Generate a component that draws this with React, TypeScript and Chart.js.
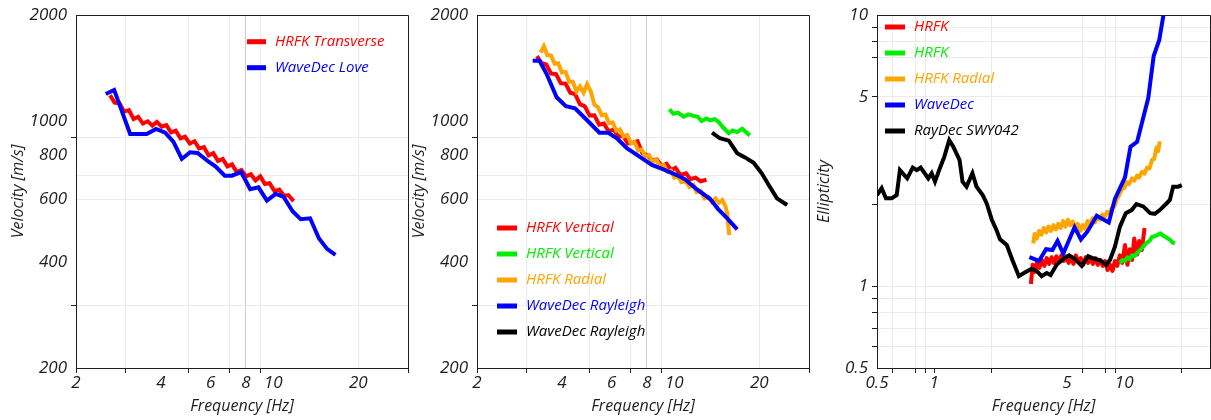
import React, { useEffect, useRef } from "react";
import { Chart, registerables } from "chart.js";

Chart.register(...registerables);

// ---------- Love-wave dispersion (left panel) ----------
const transverseLabel = "HRFK Transverse";
const transverseFreq = [2.64, 2.74, 2.85, 2.96, 3.08, 3.2, 3.32, 3.45, 3.59, 3.73, 3.87, 4.02, 4.18, 4.34, 4.51, 4.69, 4.87, 5.06, 5.26, 5.46, 5.68, 5.9, 6.13, 6.37, 6.62, 6.88, 7.14, 7.42, 7.71, 8.01, 8.33, 8.65, 8.99, 9.34, 9.7, 10.1, 10.5, 10.9, 11.3, 11.8];
const transverseVel = [1185, 1130, 1125, 1065, 1075, 1015, 1030, 985, 1000, 972, 995, 965, 975, 930, 940, 895, 905, 865, 878, 838, 845, 800, 812, 772, 782, 745, 755, 718, 728, 698, 708, 680, 698, 664, 668, 634, 640, 615, 618, 594];

const loveLabel = "WaveDec Love";
const loveFreq = [2.55, 2.73, 3.11, 3.56, 3.84, 4.14, 4.43, 4.74, 5.07, 5.39, 5.9, 6.25, 6.73, 7.13, 7.69, 8.28, 8.86, 9.49, 10.2, 10.87, 11.7, 12.5, 13.5, 14.5, 15.5, 16.6];
const loveVel = [1195, 1227, 920, 920, 951, 928, 874, 782, 817, 813, 768, 744, 701, 701, 718, 642, 650, 596, 623, 611, 556, 528, 531, 466, 435, 418];

// ---------- Rayleigh-wave dispersion (middle panel) ----------
const verticalLabel = "HRFK Vertical";
const verticalFreq = [3.26, 3.39, 3.52, 3.66, 3.81, 3.96, 4.12, 4.28, 4.45, 4.63, 4.82, 5.01, 5.21, 5.42, 5.63, 5.86, 6.09, 6.34, 6.59, 6.85, 7.13, 7.41, 7.71, 8.02, 8.34, 8.67, 9.02, 9.38, 9.75, 10.1, 10.5, 11.0, 11.4, 11.9, 12.4, 13.0];
const verticalVel = [1530, 1460, 1448, 1365, 1360, 1282, 1278, 1205, 1195, 1118, 1102, 1038, 1040, 978, 985, 935, 948, 905, 908, 865, 870, 878, 812, 802, 775, 780, 748, 758, 728, 738, 705, 712, 685, 692, 676, 683];

const vertical2Label = "HRFK Vertical";
const vertical2Freq = [9.61, 9.93, 10.3, 10.8, 11.2, 11.7, 12.1, 12.5, 13.0, 13.4, 13.9, 14.3, 14.9, 15.6, 16.1, 16.7, 17.4, 18.0, 18.5];
const vertical2Vel = [1080, 1050, 1058, 1030, 1046, 1036, 1030, 1002, 1018, 1006, 1014, 998, 960, 926, 942, 932, 952, 930, 912];

const radialLabel = "HRFK Radial";
const radialFreq = [3.36, 3.45, 3.55, 3.66, 3.77, 3.88, 4.0, 4.12, 4.24, 4.37, 4.5, 4.63, 4.77, 4.91, 5.06, 5.21, 5.37, 5.53, 5.7, 5.87, 6.05, 6.23, 6.42, 6.61, 6.81, 7.02, 7.23, 7.45, 7.67, 7.9, 8.14, 8.39, 8.64, 8.9, 9.17, 9.45, 9.73, 10.0, 10.3, 10.6, 11.0, 11.3, 11.7, 12.0, 12.4, 12.8, 13.2, 13.6, 14.0, 14.4, 14.8, 15.2, 15.4, 15.65];
const radialVel = [1565, 1630, 1540, 1535, 1455, 1460, 1375, 1380, 1295, 1295, 1215, 1255, 1205, 1275, 1215, 1115, 1095, 1040, 1045, 988, 992, 940, 948, 905, 915, 866, 872, 826, 832, 795, 802, 768, 778, 745, 752, 720, 725, 692, 698, 672, 676, 652, 660, 630, 634, 604, 610, 590, 604, 588, 598, 572, 548, 476];

const rayleighLabel = "WaveDec Rayleigh";
const rayleighFreq = [3.15, 3.33, 3.53, 3.83, 4.13, 4.45, 4.9, 5.43, 5.84, 6.26, 6.79, 7.37, 8.33, 9.15, 10.2, 10.9, 12.0, 13.4, 14.3, 15.4, 16.7];
const rayleighVel = [1484, 1484, 1361, 1169, 1104, 1088, 1008, 928, 928, 895, 839, 803, 752, 731, 704, 685, 642, 602, 564, 531, 494];

const rayleigh2Label = "WaveDec Rayleigh";
const rayleigh2Freq = [13.6, 14.5, 15.6, 16.7, 17.8, 19.1, 20.4, 21.6, 23.1, 25.1];
const rayleigh2Vel = [928, 895, 881, 812, 790, 763, 712, 660, 605, 579];

// ---------- Ellipticity (right panel) ----------
const ellHrfkLabel = "HRFK";
const ellHrfkFreq = [3.23, 3.3, 3.38, 3.48, 3.58, 3.69, 3.8, 3.91, 4.03, 4.15, 4.27, 4.4, 4.53, 4.67, 4.81, 4.95, 5.1, 5.25, 5.41, 5.57, 5.74, 5.91, 6.09, 6.27, 6.46, 6.65, 6.85, 7.06, 7.27, 7.49, 7.71, 7.94, 8.18, 8.42, 8.68, 8.94, 9.2, 9.48, 9.76, 10.1, 10.4, 10.7, 11.0, 11.3, 11.7, 12.0, 12.4, 12.8];
const ellHrfkVal = [1.02, 1.2, 1.13, 1.23, 1.17, 1.25, 1.19, 1.27, 1.21, 1.28, 1.22, 1.29, 1.23, 1.3, 1.24, 1.29, 1.22, 1.28, 1.21, 1.3, 1.23, 1.27, 1.2, 1.28, 1.22, 1.27, 1.21, 1.27, 1.2, 1.25, 1.19, 1.24, 1.15, 1.2, 1.14, 1.24, 1.19, 1.3, 1.22, 1.42, 1.2, 1.37, 1.25, 1.5, 1.31, 1.47, 1.36, 1.64];

const ellHrfk2Label = "HRFK";
const ellHrfk2Freq = [9.5, 9.8, 10.1, 10.4, 10.7, 11.0, 11.3, 11.7, 12.0, 12.4, 12.8, 13.2, 13.6, 14.0, 14.5, 15.0, 15.5, 16.0, 16.5, 17.0, 17.5, 18.0, 18.5];
const ellHrfk2Val = [1.22, 1.25, 1.24, 1.28, 1.26, 1.3, 1.29, 1.33, 1.35, 1.38, 1.42, 1.45, 1.47, 1.52, 1.53, 1.55, 1.57, 1.54, 1.52, 1.5, 1.48, 1.45, 1.44];

const ellRadialLabel = "HRFK Radial";
const ellRadialFreq = [3.32, 3.38, 3.47, 3.57, 3.67, 3.78, 3.89, 4.0, 4.12, 4.24, 4.37, 4.5, 4.63, 4.77, 4.91, 5.06, 5.21, 5.37, 5.53, 5.7, 5.87, 6.05, 6.23, 6.42, 6.61, 6.81, 7.02, 7.23, 7.45, 7.67, 7.9, 8.14, 8.39, 8.64, 8.9, 9.17, 9.45, 9.73, 10.0, 10.3, 10.6, 11.0, 11.3, 11.7, 12.0, 12.4, 12.8, 13.2, 13.6, 14.0, 14.4, 14.8, 15.1, 15.4];
const ellRadialVal = [1.44, 1.56, 1.5, 1.6, 1.55, 1.64, 1.58, 1.66, 1.6, 1.68, 1.62, 1.7, 1.64, 1.74, 1.66, 1.76, 1.68, 1.73, 1.64, 1.7, 1.6, 1.68, 1.63, 1.74, 1.68, 1.78, 1.72, 1.8, 1.76, 1.84, 1.8, 1.88, 1.86, 1.95, 1.98, 2.1, 2.18, 2.28, 2.3, 2.42, 2.38, 2.5, 2.45, 2.56, 2.52, 2.64, 2.6, 2.74, 2.72, 2.92, 2.95, 3.25, 3.15, 3.42];

const ellWaveDecLabel = "WaveDec";
const ellWaveDecFreq = [3.17, 3.56, 3.88, 4.19, 4.46, 4.78, 5.48, 5.92, 6.4, 7.17, 8.3, 8.94, 10.1, 10.8, 11.7, 12.6, 13.4, 14.3, 15.3, 16.1, 16.4];
const ellWaveDecVal = [1.28, 1.24, 1.37, 1.36, 1.47, 1.32, 1.65, 1.49, 1.59, 1.82, 1.72, 2.1, 2.52, 3.27, 3.41, 4.18, 4.95, 7.06, 8.09, 10.0, 11.5];

const ellRayDecLabel = "RayDec SWY042";
const ellRayDecFreq = [0.5, 0.529, 0.557, 0.597, 0.635, 0.66, 0.721, 0.771, 0.809, 0.849, 0.931, 0.97, 1.01, 1.07, 1.13, 1.2, 1.26, 1.36, 1.41, 1.48, 1.59, 1.67, 1.8, 1.89, 2.01, 2.13, 2.22, 2.41, 2.58, 2.79, 2.97, 3.26, 3.46, 3.68, 3.91, 4.1, 4.41, 4.78, 5.14, 5.51, 5.98, 6.47, 7.02, 7.46, 8.02, 8.42, 8.94, 9.5, 10.2, 10.95, 11.6, 12.6, 13.7, 14.5, 15.4, 16.7, 17.4, 18.1, 19.3, 20.1];
const ellRayDecVal = [2.17, 2.3, 2.11, 2.11, 2.17, 2.68, 2.5, 2.74, 2.68, 2.74, 2.5, 2.61, 2.43, 2.72, 3.0, 3.46, 3.27, 2.92, 2.43, 2.33, 2.61, 2.33, 2.17, 2.02, 1.76, 1.61, 1.49, 1.42, 1.25, 1.09, 1.12, 1.16, 1.14, 1.09, 1.12, 1.1, 1.2, 1.26, 1.3, 1.26, 1.19, 1.29, 1.26, 1.25, 1.2, 1.25, 1.4, 1.66, 1.86, 1.91, 2.01, 1.97, 1.86, 1.85, 1.91, 2.02, 2.08, 2.33, 2.33, 2.36];

// ---------- Axis tick sets ----------
const freqTicks = [2, 3, 4, 5, 6, 7, 8, 9, 10, 20, 30];
const freqLabels = [2, 4, 6, 8, 10, 20];
const freqGrid = [3, 5, 7, 8, 9, 20];
const freqMarks = [2, 3, 5, 7, 9, 30];

const velTicks = [200, 300, 400, 600, 700, 800, 900, 1000, 2000];
const velLabels = [200, 400, 600, 800, 1000, 2000];
const velGrid = [300, 600, 700, 900];
const velMarks = [300, 900];

const ellFreqTicks = [0.5, 0.6, 0.7, 0.8, 0.9, 1, 2, 3, 4, 5, 6, 7, 8, 9, 10, 20];
const ellFreqLabels = [0.5, 1, 5, 10];
const ellFreqGrid = [0.6, 0.8, 0.9, 2, 6, 8, 9, 20];
const ellFreqMarks = [0.6, 0.8, 0.9, 1, 2, 6, 8, 9, 20];

const ellTicks = [0.5, 0.6, 0.7, 0.8, 0.9, 1, 2, 3, 4, 5, 6, 7, 8, 9, 10];
const ellLabels = [0.5, 1, 5, 10];
const ellGrid = [0.6, 0.7, 0.8, 0.9, 1, 2, 5, 7, 8, 9];
const ellMarks = [0.6, 0.7, 0.8, 0.9, 1, 2, 5, 7, 8, 9];

const RED = "#ff0000";
const GREEN = "#00ee00";
const ORANGE = "#ffa500";
const BLUE = "#0000ff";
const BLACK = "#000000";

const FONT = "'Open Sans', 'Noto Sans', sans-serif";
const INK = "#1e1e1e";
const GRID = "#ebebeb";
const CLEAR = "rgba(0,0,0,0)";

const within = (arr: number[], v: number) => arr.some((a) => Math.abs(a - v) < 1e-9);

function series(label: string, freq: number[], vals: number[], color: string, idx: number, join = "miter") {
  return {
    label,
    data: freq.map((x, i) => ({ x, y: vals[i] })),
    borderColor: color,
    backgroundColor: color,
    borderWidth: 4,
    borderJoinStyle: join,
    pointRadius: 0,
    tension: 0,
    fill: false,
    clip: 0,
    order: -idx,
  };
}

function axis(o: {
  pos: "left" | "bottom";
  min: number;
  max: number;
  ticks: number[];
  labels: number[];
  grid: number[];
  marks: number[];
  strong?: number[];
  title: string;
  titlePad: number;
  size: number;
}) {
  return {
    type: "logarithmic",
    position: o.pos,
    min: o.min,
    max: o.max,
    afterBuildTicks: (s: any) => {
      s.ticks = o.ticks.map((v) => ({ value: v }));
    },
    afterFit: (s: any) => {
      if (o.pos === "left") s.width = o.size;
      else s.height = o.size;
    },
    ticks: {
      autoSkip: false,
      maxRotation: 0,
      minRotation: 0,
      padding: o.pos === "left" ? 4 : 0,
      color: INK,
      font: { family: FONT, size: 17, style: "italic" },
      callback: (v: any) => (within(o.labels, Number(v)) ? String(v) : ""),
    },
    grid: {
      lineWidth: 1,
      tickLength: 5,
      color: (c: any) => {
        const v = c.tick ? c.tick.value : NaN;
        if (!within(o.grid, v)) return CLEAR;
        return o.strong && within(o.strong, v) ? "#cdcdcd" : GRID;
      },
      tickColor: (c: any) => (c.tick && within(o.marks, c.tick.value) ? INK : CLEAR),
    },
    border: { display: true, color: INK, width: 1 },
    title: {
      display: true,
      text: o.title,
      color: INK,
      font: { family: FONT, size: 16, style: "italic" },
      padding: o.pos === "left" ? { top: o.titlePad, bottom: 0 } : { top: 0, bottom: o.titlePad },
    },
  };
}

// Closes the plot box on the top and right sides.
const framePlugin = {
  id: "frame",
  afterDraw(chart: any) {
    const { ctx, chartArea: a } = chart;
    ctx.save();
    ctx.strokeStyle = INK;
    ctx.lineWidth = 1;
    ctx.beginPath();
    ctx.moveTo(a.left, Math.round(a.top) + 0.5);
    ctx.lineTo(Math.round(a.right) + 0.5, Math.round(a.top) + 0.5);
    ctx.lineTo(Math.round(a.right) + 0.5, a.bottom);
    ctx.stroke();
    ctx.restore();
  },
};

// Legend drawn inside the plot area, text coloured like its line.
const insideLegend = {
  id: "insideLegend",
  afterDatasetsDraw(chart: any, _args: any, opts: any) {
    const { ctx } = chart;
    ctx.save();
    ctx.font = `italic 15px ${FONT}`;
    ctx.textBaseline = "middle";
    ctx.textAlign = "left";
    chart.data.datasets.forEach((d: any, i: number) => {
      const y = opts.y + i * opts.gap;
      ctx.strokeStyle = d.borderColor;
      ctx.lineWidth = 5;
      ctx.beginPath();
      ctx.moveTo(opts.x, y);
      ctx.lineTo(opts.x + opts.len, y);
      ctx.stroke();
      ctx.fillStyle = d.borderColor;
      ctx.fillText(d.label, opts.x + opts.textOffset, y);
    });
    ctx.restore();
  },
};

function buildConfig(datasets: any[], x: any, y: any, legend: any, padRight: number) {
  return {
    type: "line",
    data: { datasets },
    options: {
      responsive: false,
      animation: false,
      events: [],
      layout: { padding: { left: 0, right: padRight, top: 15, bottom: 0 } },
      plugins: {
        legend: { display: false },
        tooltip: { enabled: false },
        insideLegend: legend,
      },
      scales: { x, y },
    },
    plugins: [framePlugin, insideLegend],
  };
}

function Panel({ left, config }: { left: number; config: () => any }) {
  const ref = useRef<HTMLCanvasElement | null>(null);
  useEffect(() => {
    if (!ref.current) return;
    const chart = new Chart(ref.current, config());
    return () => chart.destroy();
  }, []);
  return (
    <div style={{ position: "absolute", left, top: 0, width: 410, height: 420 }}>
      <canvas ref={ref} width={410} height={420} style={{ display: "block" }} />
    </div>
  );
}

const loveConfig = () =>
  buildConfig(
    [
      series(transverseLabel, transverseFreq, transverseVel, RED, 0),
      series(loveLabel, loveFreq, loveVel, BLUE, 1),
    ],
    axis({ pos: "bottom", min: 2, max: 30, ticks: freqTicks, labels: freqLabels, grid: freqGrid, marks: freqMarks, strong: [8], title: "Frequency [Hz]", titlePad: 4, size: 52 }),
    axis({ pos: "left", min: 200, max: 2000, ticks: velTicks, labels: velLabels, grid: velGrid, marks: velMarks, title: "Velocity [m/s]", titlePad: 9, size: 76 }),
    { x: 247, y: 41.7, gap: 26, len: 19, textOffset: 28 },
    2
  );

const rayleighConfig = () =>
  buildConfig(
    [
      series(verticalLabel, verticalFreq, verticalVel, RED, 0),
      series(vertical2Label, vertical2Freq, vertical2Vel, GREEN, 1),
      series(radialLabel, radialFreq, radialVel, ORANGE, 2),
      series(rayleighLabel, rayleighFreq, rayleighVel, BLUE, 3),
      series(rayleigh2Label, rayleigh2Freq, rayleigh2Vel, BLACK, 4),
    ],
    axis({ pos: "bottom", min: 2, max: 30, ticks: freqTicks, labels: freqLabels, grid: freqGrid, marks: freqMarks, strong: [8], title: "Frequency [Hz]", titlePad: 4, size: 52 }),
    axis({ pos: "left", min: 200, max: 2000, ticks: velTicks, labels: velLabels, grid: velGrid, marks: velMarks, title: "Velocity [m/s]", titlePad: 9, size: 76 }),
    { x: 96, y: 228, gap: 26, len: 20, textOffset: 29 },
    2
  );

const ellipticityConfig = () =>
  buildConfig(
    [
      series(ellHrfkLabel, ellHrfkFreq, ellHrfkVal, RED, 0, "round"),
      series(ellHrfk2Label, ellHrfk2Freq, ellHrfk2Val, GREEN, 1, "round"),
      series(ellRadialLabel, ellRadialFreq, ellRadialVal, ORANGE, 2, "round"),
      series(ellWaveDecLabel, ellWaveDecFreq, ellWaveDecVal, BLUE, 3),
      series(ellRayDecLabel, ellRayDecFreq, ellRayDecVal, BLACK, 4),
    ],
    axis({ pos: "bottom", min: 0.5, max: 28.3, ticks: ellFreqTicks, labels: ellFreqLabels, grid: ellFreqGrid, marks: ellFreqMarks, title: "Frequency [Hz]", titlePad: 4, size: 52 }),
    axis({ pos: "left", min: 0.5, max: 10, ticks: ellTicks, labels: ellLabels, grid: ellGrid, marks: ellMarks, title: "Ellipticity", titlePad: 14, size: 76 }),
    { x: 84, y: 27, gap: 26, len: 20, textOffset: 29 },
    1
  );

export default function App() {
  return (
    <div style={{ position: "absolute", left: 0, top: 0, width: 1211, height: 420, background: "#fff", overflow: "hidden" }}>
      <Panel left={0} config={loveConfig} />
      <Panel left={401} config={rayleighConfig} />
      <Panel left={801} config={ellipticityConfig} />
    </div>
  );
}
